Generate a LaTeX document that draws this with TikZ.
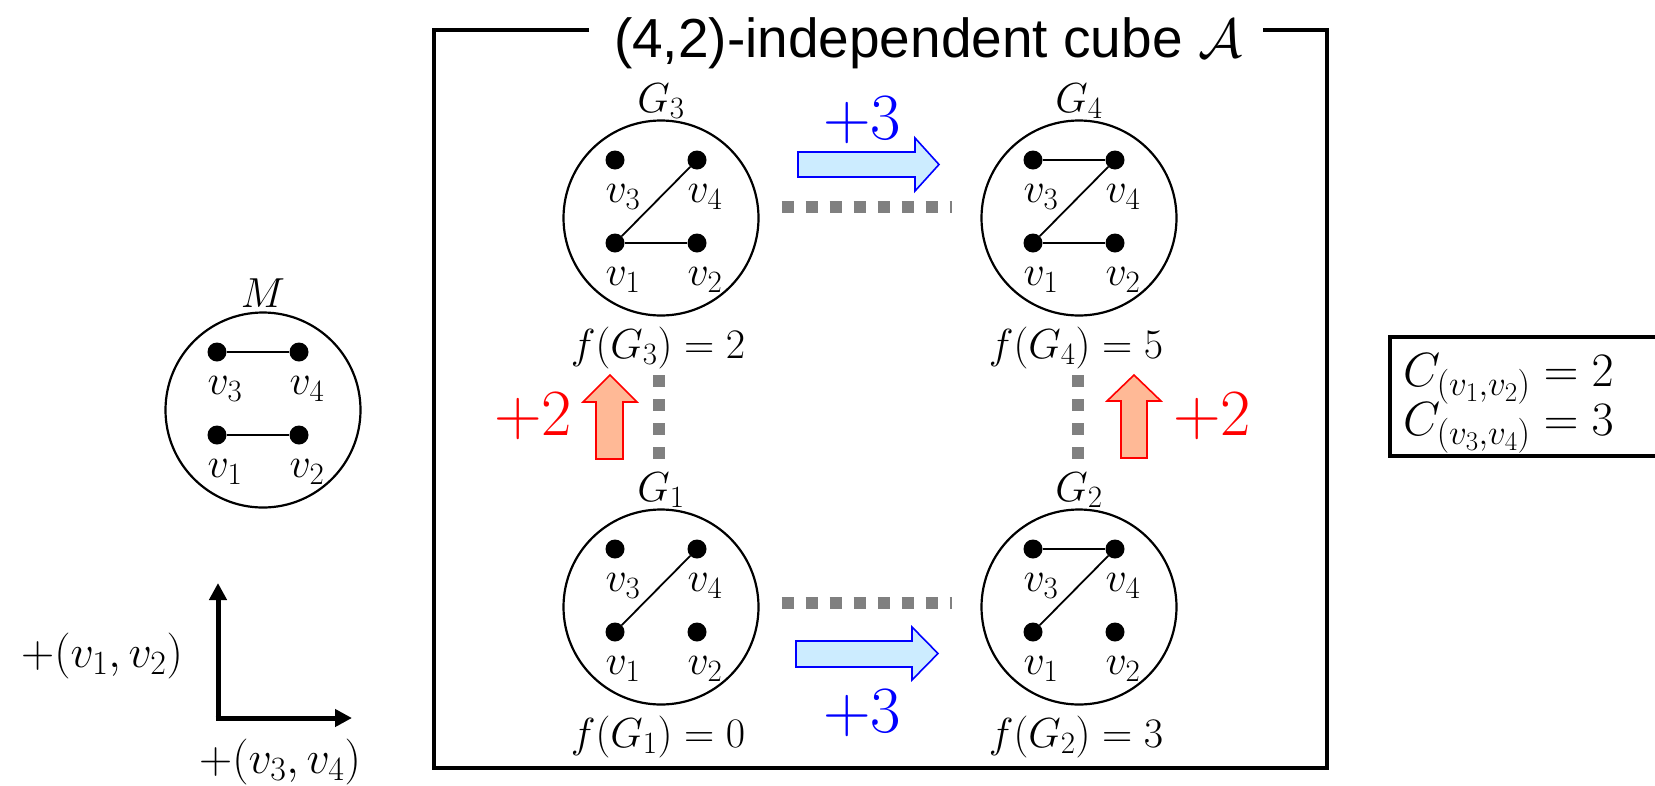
\documentclass[tikz,border=0pt]{standalone}
\usepackage{fix-cm}
\usepackage{fontspec}
\newfontfamily\titlefont{Liberation Sans}
\usetikzlibrary{calc,arrows.meta}
\DeclareMathSizes{42}{42}{31}{24}
\DeclareMathSizes{46}{46}{34}{26}
\DeclareMathSizes{48}{48}{35}{27}
\DeclareMathSizes{66}{66}{46}{34}
\definecolor{lightblue}{HTML}{CCECFF}
\definecolor{peach}{HTML}{FFB996}
\definecolor{dotgray}{HTML}{808080}
\tikzset{
  gcirc/.style={circle,draw,line width=2.2pt,minimum size=195pt,inner sep=0pt},
  vdot/.style={circle,fill=black,inner sep=0pt,minimum size=19pt},
  edge/.style={line width=1.8pt},
  lab/.style={font=\fontsize{42}{48}\selectfont,inner sep=0pt},
  blab/.style={font=\fontsize{46}{52}\selectfont,inner sep=0pt},
  clab/.style={font=\fontsize{48}{54}\selectfont,inner sep=0pt},
  biglab/.style={font=\fontsize{66}{72}\selectfont,inner sep=0pt},
  barrow/.style={draw=blue,fill=lightblue,line width=1.6pt,line join=miter},
  rarrow/.style={draw=red,fill=peach,line width=1.6pt,line join=miter},
  dotsq/.style={draw=dotgray,line width=12pt,dash pattern=on 12pt off 12pt},
  frame/.style={line width=3.5pt},
  axis/.style={line width=5pt,-{Triangle[length=17pt,width=17pt]}}
}
\newcommand\drawgraph[6]{%
  \begin{scope}[shift={(#2,#3)}]
    \node[gcirc] (#1) at (0,0) {};
    \node[vdot] (#1a) at (-46,25) {};
    \node[vdot] (#1b) at (36,25) {};
    \node[vdot] (#1c) at (-46,-58) {};
    \node[vdot] (#1d) at (36,-58) {};
    \node[lab] (#1la) at (-38,62) {$v_1$};
    \node[lab] (#1lb) at (44,62) {$v_2$};
    \node[lab] (#1lc) at (-38,-21) {$v_3$};
    \node[lab] (#1ld) at (44,-21) {$v_4$};
    \node[lab] (#1t) at (0,-117) {$#4$};
    \node[lab] (#1f) at (-3,130) {#5};
    #6
  \end{scope}}
\begin{document}
\begin{tikzpicture}[x=1pt,y=-1pt]
\useasboundingbox (0,0) rectangle (1655,785);
\clip (0,0) rectangle (1655,785);

% outer frame with title
\node[inner sep=0pt] (title) at (928,43) {\titlefont\fontsize{55}{60}\selectfont (4,2)-independent cube $\mathcal{A}$};
\draw[frame] (589,30) -- (434,30) -- (434,768) -- (1327,768) -- (1327,30) -- (1263,30);

% M graph
\drawgraph{M}{263}{410}{M}{}{\draw[edge] (Mc) -- (Md); \draw[edge] (Ma) -- (Mb);}

% cube graphs
\drawgraph{G3}{661}{218}{G_3}{$f(G_3)=2$}{\draw[edge] (G3a) -- (G3d); \draw[edge] (G3a) -- (G3b);}
\drawgraph{G4}{1079}{218}{G_4}{$f(G_4)=5$}{\draw[edge] (G4c) -- (G4d); \draw[edge] (G4a) -- (G4d); \draw[edge] (G4a) -- (G4b);}
\drawgraph{G1}{661}{607}{G_1}{$f(G_1)=0$}{\draw[edge] (G1a) -- (G1d);}
\drawgraph{G2}{1079}{607}{G_2}{$f(G_2)=3$}{\draw[edge] (G2c) -- (G2d); \draw[edge] (G2a) -- (G2d);}

% dotted cube edges
\draw[dotsq] ($(G3.east)+(22,-11)$) -- ($(G4.west)+(-28,-11)$);
\draw[dotsq] ($(G1.east)+(22,-4)$) -- ($(G2.west)+(-28,-4)$);
\draw[dotsq] ($(G3)+(-2,157)$) -- ($(G1)+(-2,-148)$);
\draw[dotsq] ($(G4)+(-1,157)$) -- ($(G2)+(-1,-148)$);

% block arrows
\draw[barrow] (798,152) -- (915,152) -- (915,138) -- (939,164.5) -- (915,191) -- (915,177) -- (798,177) -- cycle;
\draw[barrow] (796,641) -- (912,641) -- (912,627) -- (938,653.5) -- (912,680) -- (912,667) -- (796,667) -- cycle;
\draw[rarrow] (596,459) -- (596,402) -- (583,402) -- (610,375) -- (637,402) -- (623,402) -- (623,459) -- cycle;
\draw[rarrow] (1121,458) -- (1121,401) -- (1107,401) -- (1134,375) -- (1161,401) -- (1147,401) -- (1147,458) -- cycle;

\node[biglab,text=blue] (p3a) at (862,120) {$+3$};
\node[biglab,text=blue] (p3b) at (862,713) {$+3$};
\node[biglab,text=red] (p2a) at (533,416) {$+2$};
\node[biglab,text=red] (p2b) at (1212,416) {$+2$};

% axes
\coordinate (O) at (218,718);
\coordinate (Up) at (218,583);
\coordinate (Rt) at (352,718);
\draw[axis] ($(O)+(0,2.5)$) -- (Up);
\draw[axis] ($(O)+(-2.5,0)$) -- (Rt);
\node[blab] (ax1) at (102,656) {$+(v_1,v_2)$};
\node[blab] (ax2) at (280,762) {$+(v_3,v_4)$};

% C box
\draw[frame] (1390,337) rectangle (1700,456);
\node[clab,anchor=west] (c1) at (1403,379) {$C_{(v_1,v_2)}=2$};
\node[clab,anchor=west] (c2) at (1403,428) {$C_{(v_3,v_4)}=3$};
\end{tikzpicture}
\end{document}
